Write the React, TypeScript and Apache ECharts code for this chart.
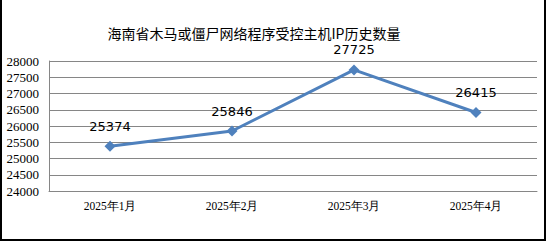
import React, { useEffect, useRef } from "react";
import * as echarts from "echarts";

const categories = ["2025年1月", "2025年2月", "2025年3月", "2025年4月"];
const values = [25374, 25846, 27725, 26415];
const titleText = "海南省木马或僵尸网络程序受控主机IP历史数量";

export default function App() {
  const ref = useRef<HTMLDivElement>(null);
  useEffect(() => {
    document.body.style.margin = "0";
    const chart = echarts.init(ref.current!, null, { renderer: "svg" });
    chart.setOption({
      animation: false,
      backgroundColor: "#fff",
      grid: { left: 49, top: 61, right: 10, bottom: 50 },
      graphic: [
        {
          type: "rect",
          shape: { x: 1, y: -5, width: 544, height: 245 },
          style: { fill: "none", stroke: "#000", lineWidth: 2 },
          silent: true,
        },
        {
          type: "text",
          x: 254,
          y: 33,
          style: {
            text: titleText,
            fill: "#000",
            font: '14px "Noto Sans CJK SC"',
            textAlign: "center",
            textVerticalAlign: "middle",
          },
        },
      ],
      xAxis: {
        type: "category",
        data: categories,
        boundaryGap: true,
        axisLine: { lineStyle: { color: "#868686", width: 1 } },
        axisTick: { show: false },
        axisLabel: {
          color: "#000",
          fontFamily: "Liberation Serif",
          fontSize: 11.5,
          margin: 9,
        },
      },
      yAxis: {
        type: "value",
        min: 24000,
        max: 28000,
        interval: 500,
        axisLine: { show: true, lineStyle: { color: "#868686", width: 1 } },
        axisTick: { show: false },
        splitLine: { lineStyle: { color: "#868686", width: 1 } },
        axisLabel: {
          color: "#000",
          fontFamily: "Liberation Serif",
          fontSize: 13,
          margin: 10,
          formatter: (v: number) => String(v),
        },
      },
      series: [
        {
          type: "line",
          data: values,
          symbol: "diamond",
          symbolSize: 11,
          lineStyle: { color: "#4F81BD", width: 3 },
          itemStyle: { color: "#4F81BD" },
          label: {
            show: true,
            position: "top",
            distance: 8,
            color: "#000",
            fontFamily: "DejaVu Sans",
            fontSize: 13,
          },
        },
      ],
    });
    return () => chart.dispose();
  }, []);
  return <div ref={ref} style={{ width: 547, height: 241 }} />;
}
